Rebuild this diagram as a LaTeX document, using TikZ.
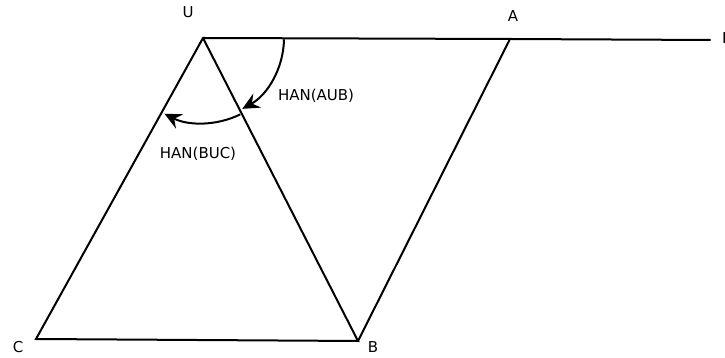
\documentclass[tikz,border=0pt]{standalone}
\usepackage{fontspec}
\setmainfont{DejaVu Sans}
\usetikzlibrary{arrows.meta,calc}

\tikzset{
    edge/.style={line width=2pt, line cap=round},
    turn/.style={line width=2pt, -{Stealth[length=17pt,width=16pt,inset=6pt]}},
    lab/.style={inner sep=0pt, font=\fontsize{15}{18}\selectfont}
}

\begin{document}
\begin{tikzpicture}[x=1pt,y=1pt]
    \useasboundingbox (0,0) rectangle (725,358);

    % vertices
    \coordinate (U) at (203,320);
    \coordinate (A) at (510,319);
    \coordinate (D) at (710,318);
    \coordinate (C) at (36,19);
    \coordinate (B) at (358,17);

    % sides
    \draw[edge] (U) -- (A) -- (D);
    \draw[edge] (U) -- (C) -- (B) -- (U);
    \draw[edge] (B) -- (A);

    % turning angles
    \draw[turn] ($(U)+(-1:81)$) arc[start angle=-1, end angle=-61, radius=81];
    \draw[turn] ($(U)+(-64:85)$) arc[start angle=-64, end angle=-117, radius=85];

    % labels
    \node[lab] (labU) at (188,346) {U};
    \node[lab] (labA) at (513,342) {A};
    \node[lab] (labD) at (728,320) {D};
    \node[lab] (labC) at (18,11) {C};
    \node[lab] (labB) at (373,11) {B};
    \node[lab] (aub) at (316,262) {HAN(AUB)};
    \node[lab] (buc) at (198,204) {HAN(BUC)};
\end{tikzpicture}
\end{document}
